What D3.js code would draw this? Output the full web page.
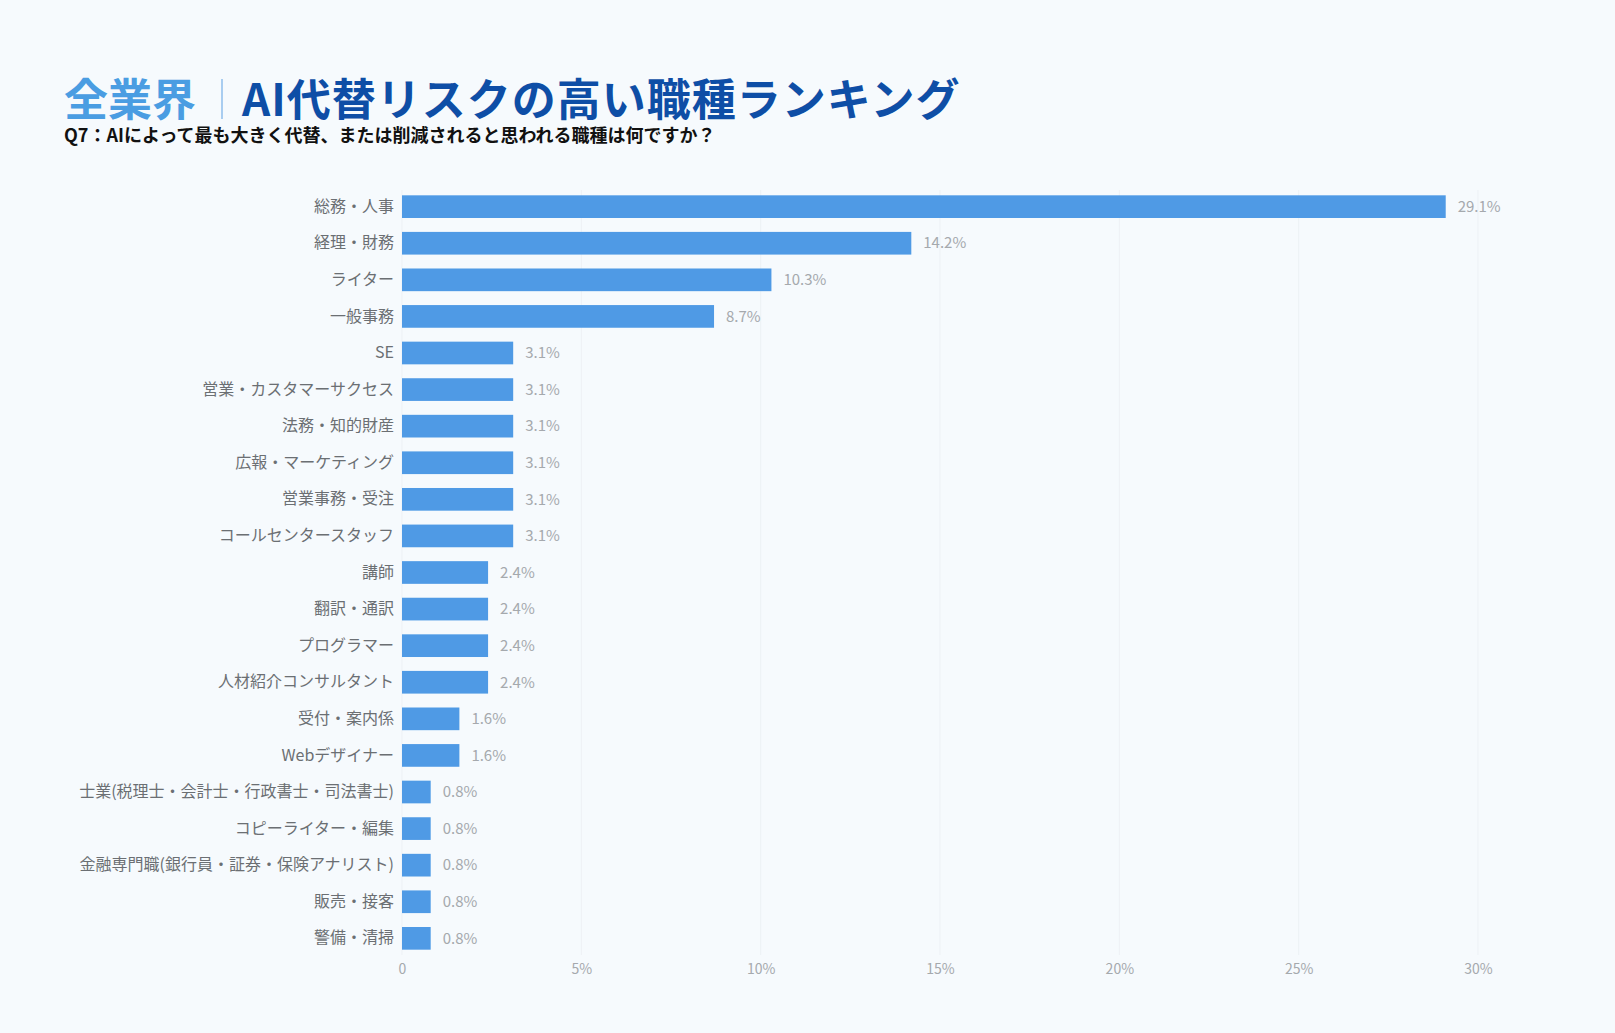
<!DOCTYPE html>
<html lang="ja">
<head>
<meta charset="utf-8">
<title>全業界｜AI代替リスクの高い職種ランキング</title>
<script src="https://cdn.jsdelivr.net/npm/d3@7"></script>
<style>
  html, body { margin: 0; padding: 0; background: #f6fafd; }
  body { font-family: "Noto Sans CJK JP", "Noto Sans", sans-serif; }
  svg { display: block; }
</style>
</head>
<body>
<div id="chart"></div>
<script>
// data (share of respondents, %)
var jobs = [
  "総務・人事", "経理・財務", "ライター", "一般事務", "SE",
  "営業・カスタマーサクセス", "法務・知的財産", "広報・マーケティング", "営業事務・受注", "コールセンタースタッフ",
  "講師", "翻訳・通訳", "プログラマー", "人材紹介コンサルタント", "受付・案内係",
  "Webデザイナー", "士業(税理士・会計士・行政書士・司法書士)", "コピーライター・編集", "金融専門職(銀行員・証券・保険アナリスト)", "販売・接客",
  "警備・清掃"
];
var shares = [
  29.1, 14.2, 10.3, 8.7, 3.1,
  3.1, 3.1, 3.1, 3.1, 3.1,
  2.4, 2.4, 2.4, 2.4, 1.6,
  1.6, 0.8, 0.8, 0.8, 0.8,
  0.8
];
var tickValues = [0, 5, 10, 15, 20, 25, 30];
var tickLabels = ["0", "5%", "10%", "15%", "20%", "25%", "30%"];

var app = {};

app.chart = {
  width: 1615,
  height: 1033,

  drawTitle: function(svg) {
    var title = svg.append("text")
      .attr("x", 64)
      .attr("y", 116)
      .attr("font-size", 44)
      .attr("font-weight", 700);
    title.append("tspan").attr("fill", "#4a9de2").text("全業界");
    title.append("tspan")
      .attr("fill", "#0e4ea6")
      .attr("dx", 46)
      .attr("letter-spacing", 1)
      .text("AI代替リスクの高い職種ランキング");

    // thin divider between the two parts
    svg.append("line")
      .attr("x1", 222).attr("x2", 222)
      .attr("y1", 79).attr("y2", 119)
      .attr("stroke", "#a9cdf0")
      .attr("stroke-width", 2);

    svg.append("text")
      .attr("x", 64)
      .attr("y", 142)
      .attr("font-size", 18)
      .attr("font-weight", 700)
      .attr("fill", "#111")
      .text("Q7：AIによって最も大きく代替、または削減されると思われる職種は何ですか？");
  },

  drawBars: function(svg) {
    var x = d3.scaleLinear().domain([0, 30]).range([402, 1478]);
    var y = d3.scaleBand().domain(jobs).range([188, 957]).paddingInner(0.38).paddingOuter(0.2);

    // vertical grid
    svg.append("g")
      .selectAll("line")
      .data(tickValues)
      .enter().append("line")
      .attr("x1", function(d) { return x(d); })
      .attr("x2", function(d) { return x(d); })
      .attr("y1", 190)
      .attr("y2", 955)
      .attr("stroke", "#edf1f5")
      .attr("stroke-width", 1);

    var xAxis = d3.axisBottom(x)
      .tickValues(tickValues)
      .tickFormat(function(d, i) { return tickLabels[i]; })
      .tickSize(0)
      .tickPadding(7);

    var gx = svg.append("g")
      .attr("transform", "translate(0,957)")
      .call(xAxis);
    gx.select(".domain").remove();
    gx.selectAll("text")
      .attr("font-family", "'Noto Sans CJK JP', sans-serif")
      .attr("font-size", 14)
      .attr("fill", "#a5a9ad");

    var yAxis = d3.axisLeft(y).tickSize(0).tickPadding(8);
    var gy = svg.append("g")
      .attr("transform", "translate(402,0)")
      .call(yAxis);
    gy.select(".domain").remove();
    gy.selectAll("text")
      .attr("font-family", "'Noto Sans CJK JP', sans-serif")
      .attr("font-size", 16)
      .attr("fill", "#6b6f73");

    var rows = jobs.map(function(j, i) { return { job: j, value: shares[i] }; });

    svg.append("g")
      .selectAll("rect")
      .data(rows)
      .enter().append("rect")
      .attr("x", x(0))
      .attr("y", function(d) { return y(d.job); })
      .attr("width", function(d) { return x(d.value) - x(0); })
      .attr("height", y.bandwidth())
      .attr("fill", "#4f9ae5");

    svg.append("g")
      .selectAll("text")
      .data(rows)
      .enter().append("text")
      .attr("x", function(d) { return x(d.value) + 12; })
      .attr("y", function(d) { return y(d.job) + y.bandwidth() / 2; })
      .attr("dy", "0.35em")
      .attr("font-size", 15)
      .attr("fill", "#a5a9ad")
      .text(function(d) { return d.value.toFixed(1) + "%"; });
  },

  init: function() {
    var svg = d3.select("#chart").append("svg")
      .attr("width", this.width)
      .attr("height", this.height);

    svg.append("rect")
      .attr("width", this.width)
      .attr("height", this.height)
      .attr("fill", "#f6fafd");

    this.drawTitle(svg);
    this.drawBars(svg);
  }
};

app.chart.init();
</script>
</body>
</html>
